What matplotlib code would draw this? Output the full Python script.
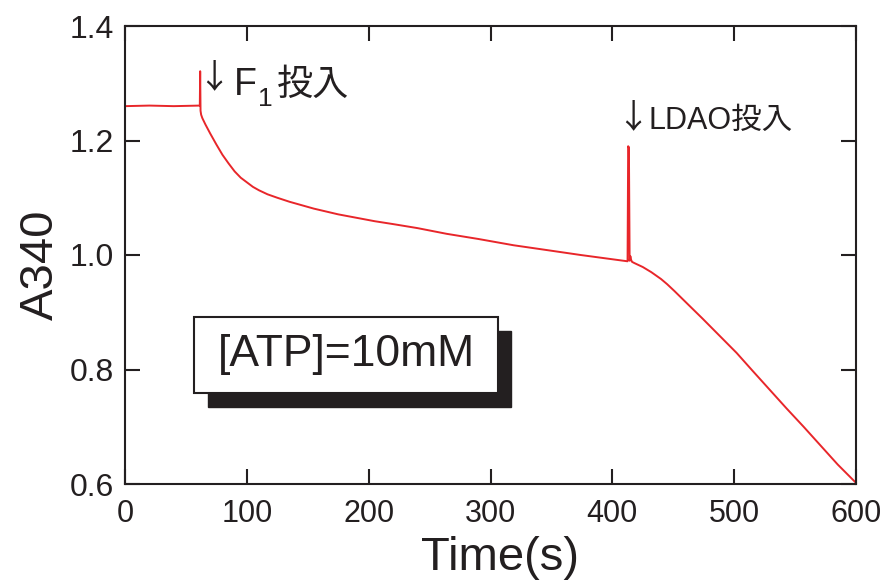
import matplotlib
matplotlib.use("Agg")
import matplotlib.pyplot as plt
from matplotlib.patches import Rectangle

plt.rcParams["font.family"] = ["Liberation Sans", "Noto Sans CJK JP", "DejaVu Sans"]

# ========= data =========
time_s = [0, 20, 40, 61.4, 61.7, 62.0, 62.5, 63.5, 66, 70, 75, 80, 85, 90,
          95, 100, 105, 110, 117, 125, 135, 145, 155, 165, 175, 190, 205,
          220, 240, 264, 290, 319, 345, 374, 395, 412.5, 413.0, 413.6,
          414.2, 414.8, 415.5, 416.2, 418, 425, 432, 440, 445, 451, 462,
          474, 488, 502, 515, 529, 543, 557, 571, 585, 600]
a340 = [1.260, 1.261, 1.260, 1.261, 1.321, 1.252, 1.245, 1.239, 1.228,
        1.212, 1.193, 1.175, 1.160, 1.146, 1.135, 1.127, 1.119, 1.113,
        1.106, 1.100, 1.093, 1.087, 1.081, 1.076, 1.071, 1.065, 1.059,
        1.054, 1.047, 1.037, 1.028, 1.017, 1.009, 1.000, 0.994, 0.989,
        1.190, 1.188, 0.990, 0.998, 0.991, 0.988, 0.986, 0.979, 0.970,
        0.958, 0.949, 0.937, 0.914, 0.889, 0.859, 0.829, 0.798, 0.765,
        0.732, 0.700, 0.667, 0.634, 0.602]

x_ticks = [0, 100, 200, 300, 400, 500, 600]
y_ticks = [0.6, 0.8, 1.0, 1.2, 1.4]

INK = "#231f20"
RED = "#e8262a"
CJK = ["Noto Sans CJK JP"]

fig = plt.figure(figsize=(8.85, 5.84), dpi=100)
ax = fig.add_axes([125 / 885, 1 - 484 / 584, 731 / 885, 458 / 584])

ax.plot(time_s, a340, color=RED, lw=1.4)

ax.set_xlim(0, 600)
ax.set_ylim(0.6, 1.4)
ax.set_xticks(x_ticks)
ax.set_yticks(y_ticks)
ax.set_yticklabels([f"{v:.1f}" for v in y_ticks])

for sp in ax.spines.values():
    sp.set_color(INK)
    sp.set_linewidth(1.5)
ax.tick_params(direction="in", length=11, width=1.5, color=INK,
               labelsize=22, labelcolor=INK, top=True, right=True)
ax.tick_params(axis="x", pad=11)
ax.tick_params(axis="y", pad=8, labelsize=23)

ax.set_xlabel("Time(s)", fontsize=34, color=INK)
ax.set_ylabel("A340", fontsize=34, color=INK)
ax.xaxis.set_label_coords(0.513, -0.113)
ax.yaxis.set_label_coords(-0.085, 0.478)

# ========= 注釈 =========
ax.text(72.6, 1.309, "↓", fontsize=24, color=INK, ha="center", va="center",
        family=CJK)
t1 = ax.text(89.5, 1.2795, "F", fontsize=27, color=INK, va="baseline")
ax.annotate("1", xy=(1, 0), xycoords=t1, xytext=(1, -6),
            textcoords="offset points", fontsize=19, color=INK,
            va="bottom", ha="left")
ax.annotate("投入", xy=(1, 0), xycoords=t1, xytext=(14, 0),
            textcoords="offset points", fontsize=26, color=INK,
            va="bottom", ha="left", family=CJK)

ax.text(417.0, 1.240, "↓", fontsize=24, color=INK, ha="center", va="center",
        family=CJK)
ax.text(430.0, 1.2201, "LDAO投入", fontsize=22, color=INK, va="baseline")

# [ATP] ボックス（影つき）
ax.add_patch(Rectangle((68.1, 0.7345), 248.7, 0.1327, facecolor=INK,
                       edgecolor=INK, lw=1.0, zorder=3))
ax.add_patch(Rectangle((56.6, 0.759), 249.6, 0.1327, facecolor="white",
                       edgecolor=INK, lw=1.5, zorder=4))
ax.text(181.4, 0.8255, "[ATP]=10mM", fontsize=32, color=INK,
        ha="center", va="center", zorder=5)

fig.savefig("out.png", dpi=100)
